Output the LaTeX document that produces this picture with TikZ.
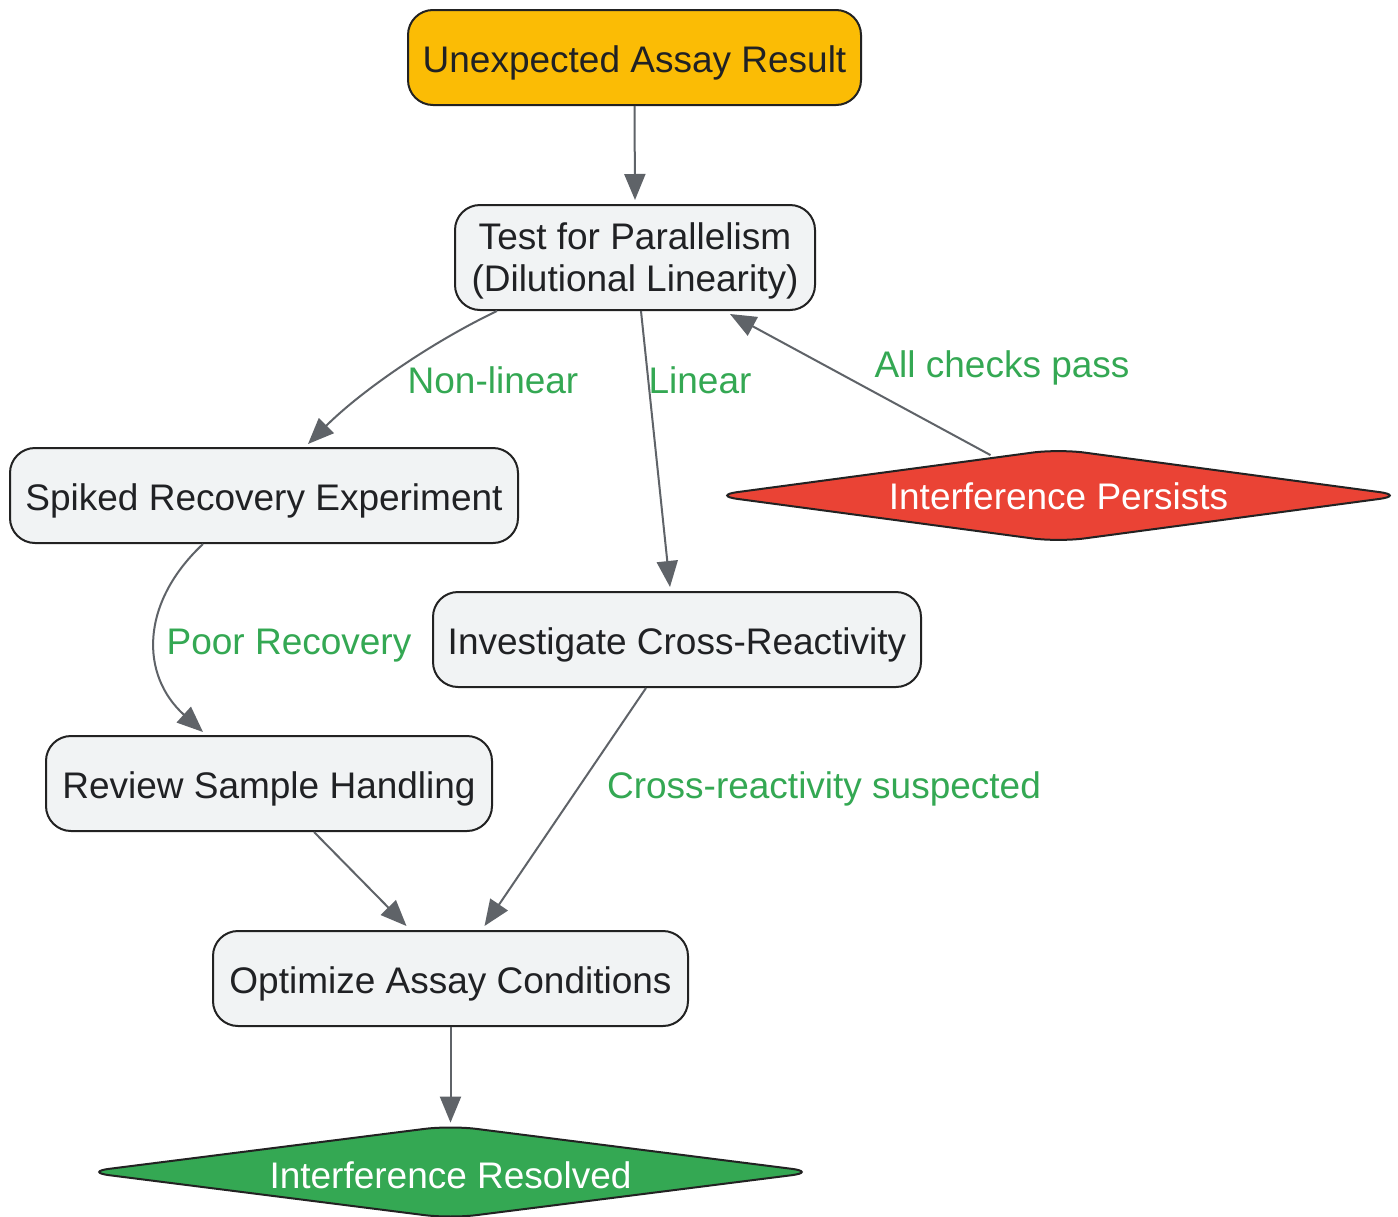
\documentclass[tikz,border=0pt]{standalone}
\usepackage{fontspec}
\setmainfont{Liberation Sans}
\usetikzlibrary{arrows.meta,calc,backgrounds}
\definecolor{startfill}{HTML}{FBBC05}
\definecolor{boxfill}{HTML}{F1F3F4}
\definecolor{redfill}{HTML}{EA4335}
\definecolor{greenfill}{HTML}{34A853}
\definecolor{labgreen}{HTML}{34A853}
\definecolor{edgegray}{HTML}{5F6368}
\definecolor{txt}{HTML}{202124}
\definecolor{border}{HTML}{222222}
\newcommand{\dn}[1]{\raisebox{-2.5pt}[\height][\depth]{#1}}
\tikzset{
  base/.style={inner sep=0pt, font=\fontsize{18.5}{21}\selectfont, text=txt, align=center},
  boxnode/.style={base, draw=border, line width=1pt, rounded corners=12.5pt, fill=boxfill, minimum height=47.5pt},
  decision/.style={base, text=white},
  diamondpath/.style={draw=border, line width=1pt},
  arr/.style={draw=edgegray, line width=1pt, -{Triangle[length=13pt,width=10.5pt]}},
  lab/.style={base, text=labgreen}
}
\begin{document}
\begin{tikzpicture}[x=0.5pt,y=-0.5pt]
\useasboundingbox (0,0) rectangle (1398,1216);

\node[boxnode, fill=startfill, minimum width=226.5pt] (start) at (634.5,57.5) {\dn{Unexpected Assay Result}};
\node[boxnode, minimum width=180pt, minimum height=52.5pt] (test) at (635,257.5) {\dn{\begin{tabular}{@{}c@{}}Test for Parallelism\\(Dilutional Linearity)\end{tabular}}};
\node[boxnode, minimum width=254pt] (spiked) at (264,495.5) {\dn{Spiked Recovery Experiment}};
\node[boxnode, minimum width=244pt] (invest) at (677,639.5) {\dn{Investigate Cross-Reactivity}};
\node[decision, minimum width=346pt, minimum height=46pt] (persists) at (1058.5,495.5) {\raisebox{-0.5pt}[\height][\depth]{Interference Persists}};
\node[boxnode, minimum width=223pt] (review) at (269,783.5) {\dn{Review Sample Handling}};
\node[boxnode, minimum width=237.5pt] (optimize) at (450.5,978.5) {\dn{Optimize Assay Conditions}};
\node[decision, minimum width=366pt, minimum height=46pt] (resolved) at (450.5,1172) {\raisebox{-1.5pt}[\height][\depth]{Interference Resolved}};

\begin{scope}[on background layer]
\fill[white] (0,0) rectangle (1398,1216);
\draw[diamondpath, fill=redfill, rounded corners=13pt] (persists.north) -- (persists.east) -- (persists.south) -- (persists.west) -- cycle;
\draw[diamondpath, fill=greenfill, rounded corners=13pt] (resolved.north) -- (resolved.east) -- (resolved.south) -- (resolved.west) -- cycle;
\end{scope}

\draw[arr] (start.south) -- ($(test.north)+(0,-4)$);
\draw[arr] ($(test.south)+(-138,0)$) .. controls (430,343) and (360,392) .. ($(spiked.north)+(44,-3)$);
\draw[arr] ($(test.south)+(6,0)$) -- ($(invest.north)+(-7,-4)$);
\draw[arr] ($(persists.north)+(-68,6)$) -- ($(test.south east)+(-86,3)$);
\draw[arr] ($(spiked.south)+(-61,0)$) .. controls (140,603) and (140,675) .. ($(review.north)+(-66,-3)$);
\draw[arr] ($(invest.south)+(-31,0)$) -- ($(optimize.north)+(34,-4)$);
\draw[arr] ($(review.south)+(45,0)$) -- ($(optimize.north)+(-44,-4)$);
\draw[arr] (optimize.south) -- ($(resolved.north)+(0,-3)$);

\node[lab] (l1) at (493,380) {Non-linear};
\node[lab] (l2) at (700,380) {Linear};
\node[lab] (l3) at (1002,368) {All checks pass};
\node[lab] (l4) at (289,646) {Poor Recovery};
\node[lab] (l5) at (824,789) {Cross-reactivity suspected};
\end{tikzpicture}
\end{document}
